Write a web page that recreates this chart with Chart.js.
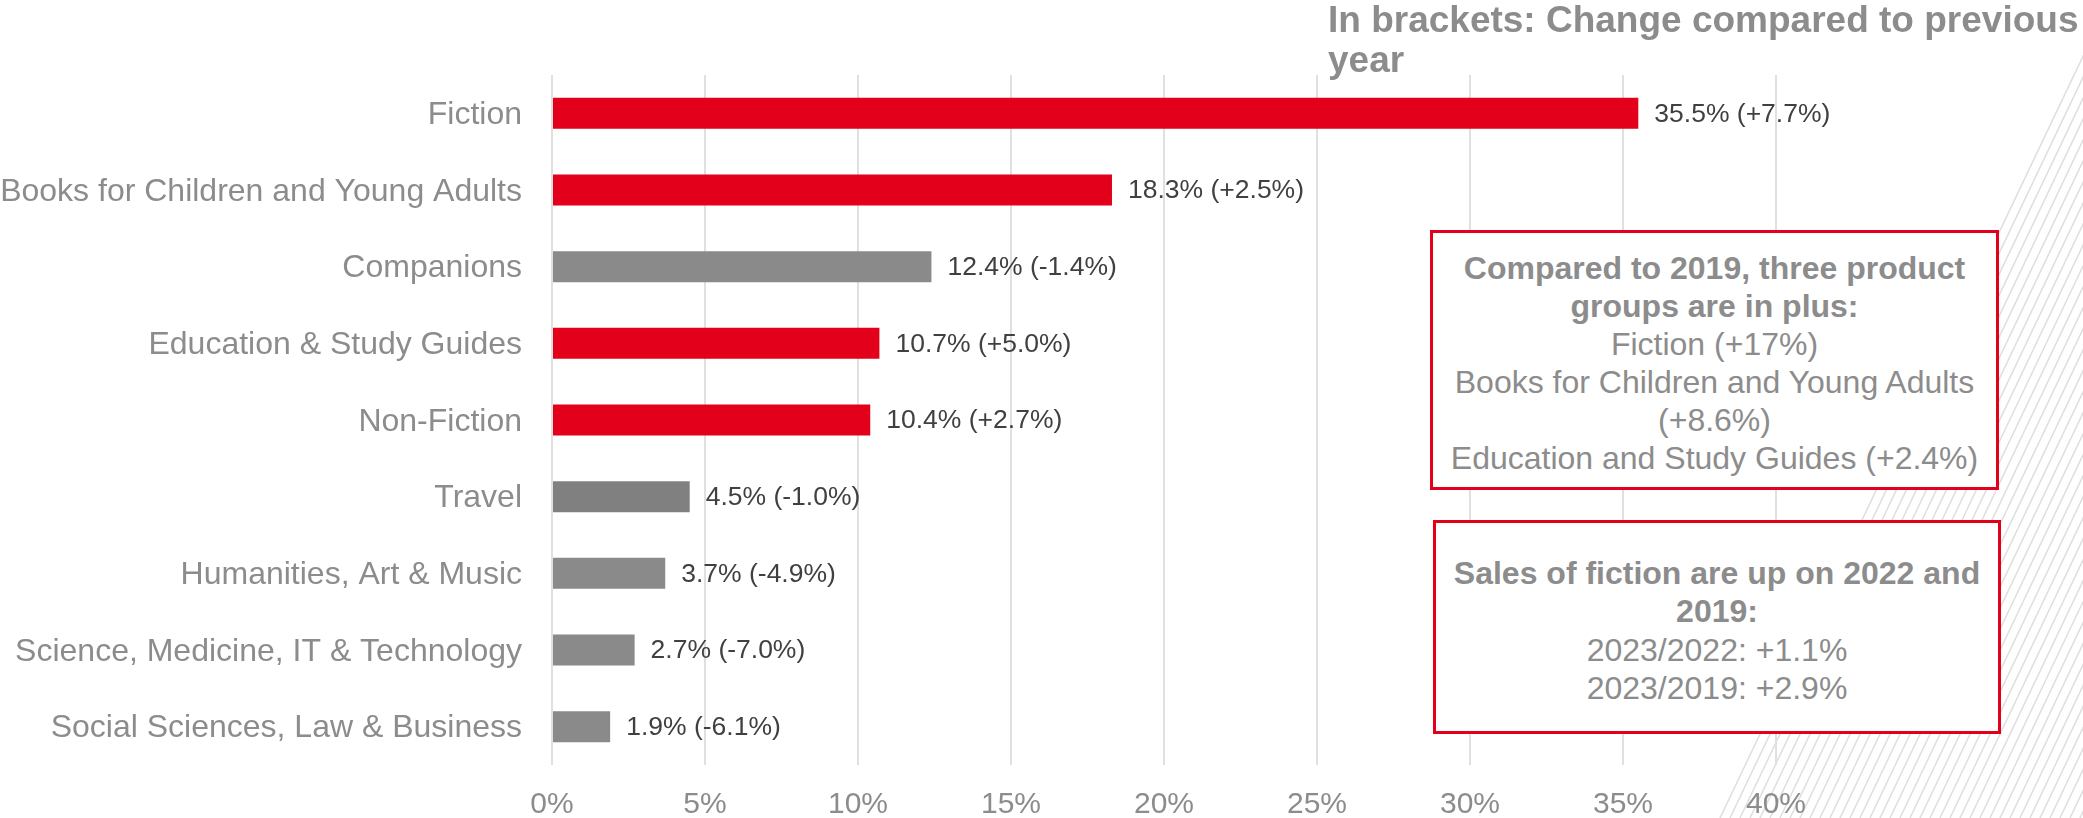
<!DOCTYPE html>
<html>
<head>
<meta charset="utf-8">
<script src="https://cdn.jsdelivr.net/npm/chart.js@4"></script>
<style>
  html, body { margin: 0; padding: 0; background: #ffffff; }
  #wrap { position: relative; width: 2083px; height: 818px; overflow: hidden; font-family: "Liberation Sans", Arial, sans-serif; }
  #wrap canvas { position: absolute; left: 0; top: 0; }
  .title { position: absolute; left: 1328px; top: 0px; font-size: 37px; font-weight: bold; line-height: 40px; color: #8c8c8c; white-space: nowrap; }
  .box { position: absolute; box-sizing: border-box; border: 3px solid #e2001a; background: #ffffff; text-align: center; color: #8c8c8c; font-size: 32px; white-space: nowrap; }
  .box b { font-weight: bold; }
  #box1 { left: 1430px; top: 230px; width: 569px; height: 260px; padding-top: 16px; line-height: 38px; }
  #box2 { left: 1433px; top: 520px; width: 568px; height: 214px; padding-top: 31px; line-height: 38.3px; }
</style>
</head>
<body>
<div id="wrap">
  <canvas id="c"></canvas>
  <div class="title">In brackets: Change compared to previous<br>year</div>
  <div class="box" id="box1"><b>Compared to 2019, three product<br>groups are in plus:</b><br>Fiction (+17%)<br>Books for Children and Young Adults<br>(+8.6%)<br>Education and Study Guides (+2.4%)</div>
  <div class="box" id="box2"><b>Sales of fiction are up on 2022 and<br>2019:</b><br>2023/2022: +1.1%<br>2023/2019: +2.9%</div>
</div>
<script>
const categories = [
  "Fiction",
  "Books for Children and Young Adults",
  "Companions",
  "Education & Study Guides",
  "Non-Fiction",
  "Travel",
  "Humanities, Art & Music",
  "Science, Medicine, IT & Technology",
  "Social Sciences, Law & Business"
];
const shares = [35.5, 18.3, 12.4, 10.7, 10.4, 4.5, 3.7, 2.7, 1.9];
const changes = ["+7.7%", "+2.5%", "-1.4%", "+5.0%", "+2.7%", "-1.0%", "-4.9%", "-7.0%", "-6.1%"];
const barColors = ["#e2001a", "#e2001a", "#8a8a8a", "#e2001a", "#e2001a", "#808080", "#8a8a8a", "#8a8a8a", "#8a8a8a"];
const xTicks = [0, 5, 10, 15, 20, 25, 30, 35, 40];

const FONT = '"Liberation Sans", Arial, sans-serif';

const hatchPlugin = {
  id: 'hatch',
  beforeDraw(chart) {
    const ctx = chart.ctx;
    const W = chart.width, H = chart.height;
    ctx.save();
    ctx.beginPath();
    ctx.moveTo(1717, H);
    ctx.lineTo(W, H);
    ctx.lineTo(W, 50);
    ctx.closePath();
    ctx.clip();
    ctx.strokeStyle = '#dedede';
    ctx.lineWidth = 1.5;
    const k = (W - 1717) / (H - 50);
    for (let x0 = 1500; x0 < W + 50; x0 += 10) {
      ctx.beginPath();
      ctx.moveTo(x0, H);
      ctx.lineTo(x0 + k * H, 0);
      ctx.stroke();
    }
    ctx.restore();
  }
};

const labelPlugin = {
  id: 'barLabels',
  afterDatasetsDraw(chart) {
    const ctx = chart.ctx;
    const meta = chart.getDatasetMeta(0);
    ctx.save();
    ctx.font = '26.5px ' + FONT;
    ctx.fillStyle = '#404040';
    ctx.textAlign = 'left';
    ctx.textBaseline = 'middle';
    meta.data.forEach((bar, i) => {
      const txt = shares[i].toFixed(1) + '% (' + changes[i] + ')';
      ctx.fillText(txt, bar.x + 16, bar.y + 1);
    });
    ctx.restore();
  }
};

new Chart(document.getElementById('c'), {
  type: 'bar',
  data: {
    labels: categories,
    datasets: [{
      data: shares,
      backgroundColor: barColors,
      borderWidth: 0,
      categoryPercentage: 1.0,
      barPercentage: 0.405
    }]
  },
  options: {
    indexAxis: 'y',
    responsive: true,
    maintainAspectRatio: false,
    animation: false,
    layout: { padding: { top: 75, right: 307, bottom: 0, left: 0 } },
    plugins: {
      legend: { display: false },
      tooltip: { enabled: false },
      title: { display: false }
    },
    scales: {
      x: {
        min: 0,
        max: 40,
        afterBuildTicks(scale) { scale.ticks = xTicks.map(v => ({ value: v })); },
        ticks: {
          callback: v => v + '%',
          color: '#8c8c8c',
          font: { size: 30, family: FONT },
          padding: 22,
          maxRotation: 0
        },
        grid: { color: '#e0e0e0', lineWidth: 2, drawTicks: false },
        border: { display: false },
        afterFit(scale) { scale.height = 53; }
      },
      y: {
        ticks: {
          color: '#8c8c8c',
          font: { size: 32, family: FONT },
          padding: 30,
          labelOffset: 2,
          autoSkip: false
        },
        grid: { display: false, drawTicks: false },
        border: { display: false },
        afterFit(scale) { scale.width = 552; }
      }
    }
  },
  plugins: [hatchPlugin, labelPlugin]
});
</script>
</body>
</html>
